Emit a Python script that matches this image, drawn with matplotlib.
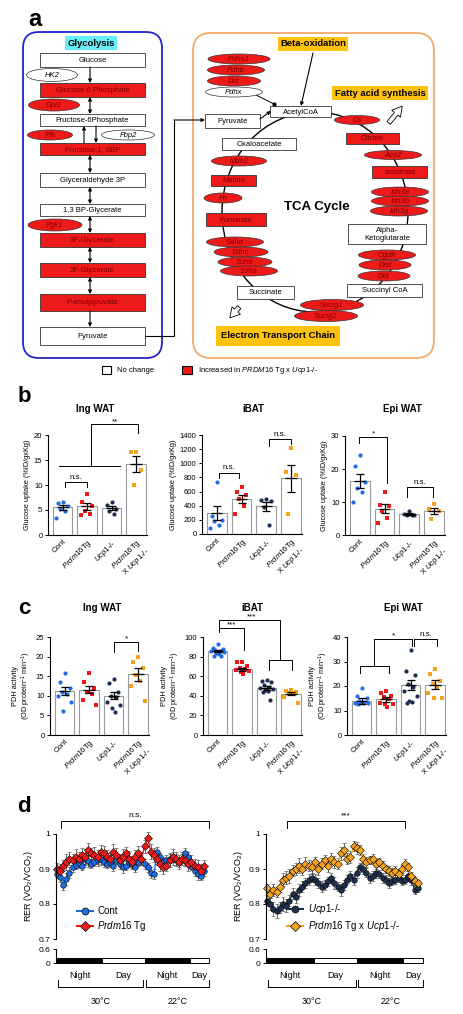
import numpy as np
import matplotlib
matplotlib.use('Agg')
import matplotlib.pyplot as plt
from matplotlib.patches import Rectangle, Ellipse, FancyBboxPatch, FancyArrowPatch
from matplotlib.lines import Line2D
from matplotlib import transforms

plt.rcParams['font.family'] = ['Liberation Sans', 'DejaVu Sans']
plt.rcParams['mathtext.fontset'] = 'custom'
plt.rcParams['mathtext.rm'] = 'Liberation Sans'
plt.rcParams['mathtext.it'] = 'Liberation Sans:italic'
plt.rcParams['mathtext.bf'] = 'Liberation Sans:bold'

#%% data
# panel a : pathway labels (name, top, bottom, increased?)
gly_boxes = [('Glucose', 53, 67, False), ('Glucose 6-Phosphate', 83, 97, True),
             ('Fructose-6Phosphate', 114, 126, False), ('Fructose-1, 6BP', 143, 155, True),
             ('Glyceraldehyde 3P', 173, 187, False), ('1,3 BP-Glycerate', 204, 216, False),
             ('3P-Glycerate', 233, 247, True), ('2P-Glycerate', 263, 277, True),
             ('P-enolpyruvate', 294, 311, True), ('Pyruvate', 327, 345, False)]
gly_genes = [('HK2', 52, 75, 51, 13, False), ('Gpi1', 54, 105, 51, 12, True),
             ('Pfk', 50, 135, 45, 10, True), ('Fbp2', 128, 135, 53, 10, False),
             ('Pgk1', 55, 225, 54, 12, True)]
tca_boxes = [('AcetylCoA', 270, 106, 331, 117, False), ('Pyruvate', 205, 114, 260, 128, False),
             ('Oxaloacetate', 222, 138, 296, 150, False), ('Citrate', 346, 133, 399, 144, True),
             ('Isocitrate', 372, 166, 427, 178, True), ('Alpha-\nKetoglutarate', 348, 224, 426, 244, False),
             ('Succinyl CoA', 347, 284, 422, 297, False), ('Succinate', 237, 286, 294, 299, False),
             ('Fumarate', 206, 213, 266, 226, True), ('Malate', 211, 175, 256, 186, True)]
tca_genes = [('Pdha1', 239, 59, 62, 10, True), ('Pdhb', 236, 70, 57, 10, True),
             ('Dld', 234, 81, 53, 10, True), ('Pdhx', 234, 92, 57, 10, False),
             ('Cs', 357, 120, 45, 9, True), ('Aco2', 393, 155, 57, 9, True),
             ('Idh3a', 400, 192, 57, 10, True), ('Idh3b', 400, 201, 57, 10, True),
             ('Idh3g', 399, 211, 57, 10, True), ('Ogdh', 387, 255, 57, 10, True),
             ('Dlst', 385, 265, 52, 10, True), ('Dld', 384, 276, 52, 10, True),
             ('Suclg1', 332, 305, 63, 11, True), ('Suclg2', 326, 316, 63, 11, True),
             ('Sdhd', 235, 242, 57, 10, True), ('Sdhc', 241, 252, 54, 10, True),
             ('Sdhb', 245, 262, 54, 10, True), ('Sdha', 249, 271, 57, 10, True),
             ('Fh', 223, 198, 38, 10, True), ('Mdh2', 239, 161, 55, 10, True)]

# panels b, c
tick_labels = ['Cont', r'$\it{Prdm16}$Tg', r'$\it{Ucp1}$-/-', r'$\it{Prdm16}$Tg' + '\n' + r'X $\it{Ucp1}$-/-']

glu_ing_pts = [[6.7, 6.5, 5.9, 5.3, 4.9, 3.5], [8.3, 6.7, 5.9, 4.9, 4.2, 4.0],
               [6.7, 6.0, 5.3, 4.9, 4.3], [16.7, 16.7, 13.1, 10.1]]
glu_ing_mean = [5.6, 5.8, 5.4, 14.3]
glu_ing_sem = [0.5, 0.7, 0.4, 1.6]

glu_bat_pts = [[740, 250, 200, 180, 130, 80], [660, 600, 550, 500, 400, 280],
               [500, 480, 460, 380, 130], [1220, 870, 830, 280]]
glu_bat_mean = [300, 500, 390, 790]
glu_bat_sem = [100, 55, 60, 190]

glu_epi_pts = [[24.2, 21.0, 16.2, 14.1, 12.9, 9.9], [12.9, 9.1, 8.9, 7.4, 5.1, 3.6],
               [7.3, 6.3, 6.2, 6.1, 6.0], [9.3, 8.0, 7.4, 4.8]]
glu_epi_mean = [16.3, 8.0, 6.3, 7.3]
glu_epi_sem = [2.1, 1.3, 0.3, 1.0]

pdh_ing_pts = [[15.8, 13.5, 12.0, 11.0, 10.5, 10.0, 8.5, 6.2], [15.8, 13.5, 12.0, 11.0, 10.5, 9.0, 7.6],
               [14.2, 13.3, 11.0, 10.0, 9.8, 8.5, 7.7, 7.0, 5.9], [20.0, 18.7, 17.0, 15.3, 13.9, 12.4, 8.6]]
pdh_ing_mean = [11.2, 11.6, 10.0, 15.5]
pdh_ing_sem = [1.0, 1.0, 0.9, 1.6]

pdh_bat_pts = [[93, 89, 88, 87, 86, 86, 85, 84, 83, 81, 81], [74, 74, 70, 68, 67, 66, 65, 64, 62],
               [56, 55, 54, 51, 49, 48, 47, 46, 45, 44, 36], [46, 45, 44, 43, 42, 39, 33]]
pdh_bat_mean = [86, 67, 48, 42]
pdh_bat_sem = [1.0, 1.5, 1.8, 1.6]

pdh_epi_pts = [[19, 16, 15, 14, 13.5, 13, 13, 13, 13, 12.5], [18, 17, 16, 15.5, 14.5, 13, 12.5, 12.5, 11.5],
               [34.5, 26, 24.5, 21, 19.5, 18, 16, 14, 13.5, 13], [27, 25, 22, 21, 19, 17, 15, 15]]
pdh_epi_mean = [14.0, 14.5, 20.3, 20.5]
pdh_epi_sem = [1.2, 1.2, 2.0, 1.8]

# panel d : RER time course
rer_cont = [0.885, 0.878, 0.855, 0.872, 0.890, 0.905, 0.912, 0.918, 0.910, 0.928, 0.922, 0.915,
            0.920, 0.925, 0.930, 0.920, 0.915, 0.920, 0.910, 0.925, 0.915, 0.905, 0.910, 0.920,
            0.915, 0.905, 0.920, 0.930, 0.915, 0.905, 0.890, 0.885, 0.948, 0.935, 0.920, 0.925,
            0.930, 0.935, 0.925, 0.920, 0.930, 0.945, 0.935, 0.910, 0.895, 0.885, 0.880, 0.895]
rer_prdm = [0.900, 0.895, 0.910, 0.920, 0.930, 0.925, 0.935, 0.930, 0.940, 0.935, 0.955, 0.945,
            0.940, 0.935, 0.950, 0.945, 0.935, 0.930, 0.950, 0.940, 0.925, 0.935, 0.945, 0.930,
            0.920, 0.935, 0.945, 0.930, 0.965, 0.990, 0.950, 0.940, 0.930, 0.915, 0.905, 0.910,
            0.925, 0.935, 0.930, 0.920, 0.930, 0.925, 0.915, 0.920, 0.910, 0.905, 0.895, 0.910]
rer_ucp = [0.810, 0.800, 0.785, 0.780, 0.790, 0.800, 0.795, 0.810, 0.830, 0.820, 0.840, 0.850,
           0.860, 0.870, 0.875, 0.870, 0.860, 0.850, 0.855, 0.865, 0.875, 0.860, 0.850, 0.840,
           0.855, 0.870, 0.880, 0.870, 0.890, 0.905, 0.900, 0.890, 0.875, 0.880, 0.890, 0.885,
           0.875, 0.870, 0.860, 0.865, 0.870, 0.875, 0.865, 0.870, 0.880, 0.870, 0.840, 0.845]
rer_pxu = [0.845, 0.830, 0.840, 0.835, 0.850, 0.870, 0.875, 0.880, 0.895, 0.900, 0.910, 0.900,
           0.915, 0.910, 0.905, 0.920, 0.900, 0.915, 0.925, 0.910, 0.930, 0.920, 0.915, 0.945,
           0.955, 0.930, 0.935, 0.965, 0.960, 0.955, 0.930, 0.920, 0.925, 0.930, 0.915, 0.920,
           0.910, 0.900, 0.895, 0.890, 0.895, 0.885, 0.900, 0.915, 0.905, 0.880, 0.865, 0.860]
err_cont = [0.012, 0.016, 0.014, 0.018, 0.015, 0.013, 0.012, 0.016, 0.014, 0.015, 0.017, 0.013,
            0.012, 0.016, 0.018, 0.014, 0.013, 0.015, 0.016, 0.012, 0.014, 0.017, 0.013, 0.015,
            0.016, 0.014, 0.012, 0.018, 0.015, 0.013, 0.016, 0.014, 0.015, 0.012, 0.014, 0.016,
            0.013, 0.015, 0.017, 0.014, 0.012, 0.016, 0.015, 0.013, 0.014, 0.016, 0.012, 0.015]
err_prdm = [0.018, 0.020, 0.016, 0.022, 0.019, 0.017, 0.021, 0.018, 0.020, 0.023, 0.019, 0.016,
            0.022, 0.020, 0.018, 0.021, 0.019, 0.017, 0.022, 0.020, 0.018, 0.023, 0.019, 0.021,
            0.017, 0.020, 0.022, 0.018, 0.019, 0.016, 0.021, 0.020, 0.018, 0.022, 0.019, 0.017,
            0.020, 0.023, 0.018, 0.021, 0.019, 0.017, 0.022, 0.020, 0.018, 0.021, 0.019, 0.017]
err_ucp = [0.016, 0.018, 0.020, 0.019, 0.017, 0.021, 0.018, 0.016, 0.015, 0.018, 0.017, 0.016,
           0.014, 0.015, 0.013, 0.016, 0.015, 0.017, 0.014, 0.013, 0.015, 0.016, 0.014, 0.017,
           0.015, 0.013, 0.014, 0.016, 0.015, 0.013, 0.014, 0.012, 0.014, 0.013, 0.015, 0.012,
           0.014, 0.013, 0.015, 0.012, 0.014, 0.013, 0.012, 0.014, 0.013, 0.015, 0.012, 0.011]
err_pxu = [0.012, 0.014, 0.016, 0.015, 0.017, 0.019, 0.018, 0.020, 0.016, 0.018, 0.021, 0.017,
           0.019, 0.016, 0.018, 0.015, 0.017, 0.016, 0.014, 0.018, 0.015, 0.017, 0.016, 0.018,
           0.019, 0.015, 0.017, 0.014, 0.016, 0.015, 0.013, 0.014, 0.012, 0.013, 0.014, 0.012,
           0.013, 0.011, 0.014, 0.012, 0.013, 0.012, 0.011, 0.013, 0.012, 0.011, 0.012, 0.010]
phase_names = ['Night', 'Day', 'Night', 'Day']
phase_edges = [0, 14.5, 28, 42.5, 48.6]
temp_labels = ['30\u00b0C', '22\u00b0C']

#%% style
RED = '#ee1a1a'
DARKRED = '#7a0000'
BLUE = '#1f6ee6'
NAVY = '#1d2f4d'
ORANGE = '#f6a21e'
CYAN = '#66eefa'
GOLD = '#ffc20e'
grp_colors = [BLUE, RED, NAVY, ORANGE]
grp_markers = ['o', 's', 'o', 's']

W, H = 464, 1014
fig = plt.figure(figsize=(W / 100, H / 100), dpi=100)


def px_axes(l, t, r, b):
    return fig.add_axes([l / W, 1 - b / H, (r - l) / W, (b - t) / H])


ov = px_axes(0, 0, W, H)
ov.set_xlim(0, W)
ov.set_ylim(H, 0)
ov.axis('off')

#%% panel a
ov.text(35, 19, 'a', fontsize=17, fontweight='bold', ha='center', va='center')

ov.add_patch(FancyBboxPatch((23, 32), 139, 326, boxstyle='round,pad=0,rounding_size=16',
                            fc='none', ec='#2424c8', lw=1.3))
ov.add_patch(FancyBboxPatch((193, 33), 241, 325, boxstyle='round,pad=0,rounding_size=18',
                            fc='none', ec='#f4a86a', lw=1.3))


def box(x0, y0, x1, y1, label, red):
    ov.add_patch(Rectangle((x0, y0), x1 - x0, y1 - y0, fc=RED if red else 'white',
                           ec='#333333', lw=0.6, zorder=3))
    ov.text((x0 + x1) / 2, (y0 + y1) / 2 + 0.5, label, ha='center', va='center', fontsize=5.5,
            color=DARKRED if red else 'black', zorder=4, linespacing=1.0)


def gene(label, cx, cy, w, h, red):
    ov.add_patch(Ellipse((cx, cy), w, h, fc=RED if red else 'white', ec='#333333', lw=0.5, zorder=2))
    ov.text(cx, cy + 0.3, label, ha='center', va='center', fontsize=5.5, style='italic',
            color=DARKRED if red else 'black', zorder=4)


def arrow(x0, y0, x1, y1, style='-|>'):
    ov.annotate('', xy=(x1, y1), xytext=(x0, y0),
                arrowprops=dict(arrowstyle=style, color='black', lw=0.8, mutation_scale=5,
                                shrinkA=0, shrinkB=0), zorder=4)


for label, t, b, red in gly_boxes:
    box(40, t, 145, b, label, red)
for g in gly_genes:
    gene(*g)

for i in range(len(gly_boxes) - 1):
    y0 = gly_boxes[i][2]
    y1 = gly_boxes[i + 1][1]
    if i == 2:
        arrow(84, y1, 84, y0)
        arrow(96, y0, 96, y1)
    elif i in (0, len(gly_boxes) - 2):
        arrow(90, y0, 90, y1)
    else:
        arrow(90, y0, 90, y1, '<|-|>')

ov.text(91, 43, 'Glycolysis', fontsize=6.8, fontweight='bold', ha='center', va='center',
        bbox=dict(boxstyle='square,pad=0.25', fc=CYAN, ec='none'))

# TCA cycle ring
ov.add_patch(Ellipse((315, 212), 186, 200, fc='none', ec='black', lw=1.0, zorder=1))
for g in tca_genes:
    gene(*g)
for label, x0, y0, x1, y1, red in tca_boxes:
    box(x0, y0, x1, y1, label, red)

ov.plot([145, 174, 174], [336, 336, 120], color='black', lw=0.8)
arrow(174, 120, 205, 120)
arrow(260, 119, 271, 111)
arrow(313, 53, 301, 106)
ov.plot([256, 274], [95, 104], color='black', lw=0.7, zorder=1)
ov.plot([274], [104], 'o', color='black', ms=2, zorder=5)

ov.text(313, 44, 'Beta-oxidation', fontsize=6.8, fontweight='bold', ha='center', va='center',
        bbox=dict(boxstyle='square,pad=0.25', fc=GOLD, ec='none'))
ov.text(380, 93, 'Fatty acid synthesis', fontsize=6.8, fontweight='bold', ha='center', va='center',
        bbox=dict(boxstyle='square,pad=0.25', fc=GOLD, ec='none'))
ov.text(278, 336, 'Electron Transport Chain', fontsize=6.8, fontweight='bold', ha='center',
        va='center', bbox=dict(boxstyle='square,pad=0.55', fc=GOLD, ec='none'))
ov.text(317, 207, 'TCA Cycle', fontsize=9.5, fontweight='bold', ha='center', va='center')

for (xa, ya, xb, yb) in [(387, 125, 404, 104), (241, 305, 228, 320)]:
    ov.add_patch(FancyArrowPatch((xa, ya), (xb, yb),
                                 arrowstyle='simple,head_width=4,head_length=3.5,tail_width=1.6',
                                 mutation_scale=2, fc='white', ec='black', lw=0.6))

ov.add_patch(Rectangle((102, 366), 9, 8, fc='white', ec='black', lw=0.8))
ov.text(117, 370.5, 'No change', fontsize=5.5, va='center')
ov.add_patch(Rectangle((182, 366), 10, 8, fc=RED, ec='black', lw=0.8))
ov.text(198, 370.5, r'Increased in $\it{PRDM16}$ Tg x $\it{Ucp1}$-/-', fontsize=5.5, va='center')

#%% panels b, c
def offsets(n):
    base = [0, -0.2, 0.2, -0.1, 0.1, -0.27, 0.27, -0.05, 0.05, -0.15, 0.15, -0.24]
    return np.array(base[:n])


def bar_panel(rect, pts, means, sems, ylim, yticks, ylabel):
    ax = px_axes(*rect)
    x = np.arange(4)
    ax.bar(x, means, width=0.8, color='white', edgecolor='#9a9a9a', lw=0.8, zorder=1)
    for i in range(4):
        vals = np.sort(np.array(pts[i]))[::-1]
        ax.scatter(i + offsets(len(vals)), vals, s=9, marker=grp_markers[i], color=grp_colors[i],
                   lw=0, zorder=3, clip_on=False)
    ax.errorbar(x, means, yerr=sems, fmt='none', ecolor='black', elinewidth=0.9,
                capsize=3.2, capthick=0.9, zorder=4)
    ax.hlines(means, x - 0.23, x + 0.23, color='black', lw=0.9, zorder=4)
    ax.set_xlim(-0.6, 3.45)
    ax.set_ylim(*ylim)
    ax.set_yticks(yticks)
    ax.spines[['top', 'right']].set_visible(False)
    ax.spines[['left', 'bottom']].set_linewidth(0.8)
    ax.tick_params(axis='y', labelsize=5.5, length=2.5, width=0.7, pad=1.5)
    ax.tick_params(axis='x', length=0, pad=2)
    ax.set_xticks(x)
    ax.set_xticklabels(tick_labels, rotation=45, ha='right', rotation_mode='anchor',
                       fontsize=5.6, linespacing=1.1)
    ax.set_ylabel(ylabel, fontsize=5.3, labelpad=2, linespacing=1.1)
    ax.patch.set_alpha(0)
    return ax


def bracket(ax, xs, ys, label=None, lx=None, ly=None):
    ax.plot(xs, ys, color='black', lw=0.7, clip_on=False, zorder=5)
    if label is not None:
        ax.text(lx, ly, label, ha='center', va='bottom', fontsize=5.8, clip_on=False)


ov.text(24, 397, 'b', fontsize=16, fontweight='bold', ha='center', va='center')
for tx, ttl in [(95, 'Ing WAT'), (253, 'iBAT'), (402, 'Epi WAT')]:
    ov.text(tx, 409, ttl, fontsize=7, fontweight='bold', ha='center', va='center')
glu_label = 'Glucose uptake (%ID/gxKg)'

b1 = bar_panel((48, 435, 147, 535), glu_ing_pts, glu_ing_mean, glu_ing_sem, (0, 20),
               [0, 5, 10, 15, 20], glu_label)
bracket(b1, [1.17, 1.17, 3.08, 3.08], [13.8, 22.2, 22.2, 20.4], '**', 2.12, 22.0)
bracket(b1, [-0.16, 2.35], [13.8, 13.8])
bracket(b1, [0.08, 0.08, 1.0, 1.0], [9.6, 10.6, 10.6, 9.6], 'n.s.', 0.54, 10.8)

b2 = bar_panel((202, 435, 302, 534), glu_bat_pts, glu_bat_mean, glu_bat_sem, (0, 1400),
               [0, 200, 400, 600, 800, 1000, 1200, 1400], glu_label)
bracket(b2, [0.08, 0.08, 0.9, 0.9], [797, 867, 867, 797], 'n.s.', 0.49, 885)
bracket(b2, [2.1, 2.1, 3.0, 3.0], [1245, 1343, 1343, 1277], 'n.s.', 2.55, 1360)

b3 = bar_panel((345, 436, 445, 535), glu_epi_pts, glu_epi_mean, glu_epi_sem, (0, 30),
               [0, 10, 20, 30], glu_label)
bracket(b3, [-0.04, -0.04, 1.11, 1.11], [27.9, 29.7, 29.7, 15.8], '*', 0.53, 29.7)
bracket(b3, [1.9, 1.9, 2.97, 2.97], [11.5, 14.5, 14.5, 11.5], 'n.s.', 2.43, 14.8)

ov.text(24, 609, 'c', fontsize=16, fontweight='bold', ha='center', va='center')
for tx, ttl in [(102, 'Ing WAT'), (252, 'iBAT'), (403, 'Epi WAT')]:
    ov.text(tx, 608, ttl, fontsize=7, fontweight='bold', ha='center', va='center')
pdh_label = 'PDH activity\n(OD protein$^{-1}$ min$^{-1}$)'

c1 = bar_panel((50, 637, 149, 735), pdh_ing_pts, pdh_ing_mean, pdh_ing_sem, (0, 25),
               [0, 5, 10, 15, 20, 25], pdh_label)
bracket(c1, [2.03, 2.03, 3.02, 3.02], [21.2, 23.7, 23.7, 21.4], '*', 2.52, 23.7)

c2 = bar_panel((203, 637, 302, 735), pdh_bat_pts, pdh_bat_mean, pdh_bat_sem, (0, 100),
               [0, 20, 40, 60, 80, 100], pdh_label)
bracket(c2, [0.04, 0.04, 1.06, 1.06], [105, 109, 109, 87], '***', 0.55, 108.5)
bracket(c2, [0.04, 0.04, 2.57, 2.57], [109, 117, 117, 76.5], '***', 1.4, 116.5)
bracket(c2, [2.1, 2.1, 3.04, 3.04], [66, 76.5, 76.5, 66])

c3 = bar_panel((347, 637, 446, 735), pdh_epi_pts, pdh_epi_mean, pdh_epi_sem, (0, 40),
               [0, 10, 20, 30, 40], pdh_label)
bracket(c3, [-0.06, -0.06, 1.1, 1.1], [25.3, 28.2, 28.2, 25.3])
bracket(c3, [0.52, 0.52, 2.05, 2.05], [28.2, 39.2, 39.2, 36.3], '*', 1.28, 39.0)
bracket(c3, [2.13, 2.13, 3.1, 3.1], [36.3, 39.2, 39.2, 36.3], 'n.s.', 2.62, 39.4)

#%% panel d
ov.text(24, 807, 'd', fontsize=16, fontweight='bold', ha='center', va='center')


def rer_panel(l, r, series, sig, sig_x):
    ax = px_axes(l, 834, r, 939)
    x = np.arange(48)
    for y, e, col, mk in series:
        ax.errorbar(x, y, yerr=e, fmt='-' + mk, color=col, mfc=col, mec='black', mew=0.4,
                    ms=4.0 if mk == 'o' else 4.4, lw=1.0, ecolor='#3a3a3a', elinewidth=0.5,
                    capsize=1.3, capthick=0.5, clip_on=False)
    ax.set_xlim(-0.3, 48.6)
    ax.set_ylim(0.7, 1.0)
    ax.set_yticks([0.7, 0.8, 0.9, 1.0])
    ax.set_yticklabels(['0.7', '0.8', '0.9', '1'])
    ax.set_xticks([])
    ax.spines[['top', 'right', 'bottom']].set_visible(False)
    ax.spines['left'].set_linewidth(0.8)
    ax.tick_params(axis='y', labelsize=6, length=2.5, width=0.7, pad=1.5)
    ax.patch.set_alpha(0)
    ax.plot([sig_x[0], sig_x[0], sig_x[1], sig_x[1]], [1.017, 1.037, 1.037, 1.017],
            color='black', lw=0.7, clip_on=False)
    ax.text(sum(sig_x) / 2, 1.042, sig, ha='center', va='bottom', fontsize=6)

    lo = px_axes(l, 949, r, 963)
    lo.set_xlim(-0.3, 48.6)
    lo.set_ylim(0, 0.6)
    lo.set_yticks([0, 0.6])
    lo.set_yticklabels(['0', '0.6'])
    lo.set_xticks([])
    lo.spines[['top', 'right', 'bottom']].set_visible(False)
    lo.spines['left'].set_linewidth(0.8)
    lo.tick_params(axis='y', labelsize=6, length=2.5, width=0.7, pad=1.5)
    lo.patch.set_alpha(0)
    tr = transforms.blended_transform_factory(lo.transData, ov.transData)
    for k, name in enumerate(phase_names):
        a, b = phase_edges[k], phase_edges[k + 1]
        lo.add_patch(Rectangle((a, 0), b - a, 0.2, fc='black' if name == 'Night' else 'white',
                               ec='black', lw=0.7, clip_on=False))
        ov.text((a + b) / 2, 976, name, transform=tr, ha='center', va='center', fontsize=6.5)
    for (a, b), t in zip([(0.3, 27.6), (28.4, 48.6)], temp_labels):
        ov.plot([a, a, b, b], [980, 987, 987, 980], transform=tr, color='black', lw=0.7)
        ov.text((a + b) / 2, 1001, t, transform=tr, ha='center', va='center', fontsize=6.5)
    return ax


d1 = rer_panel(56, 209, [(rer_cont, err_cont, BLUE, 'o'), (rer_prdm, err_prdm, RED, 'D')],
               'n.s.', (1.3, 48.6))
d1.set_ylabel('RER (VO$_2$/VCO$_2$)', fontsize=6.5, labelpad=3)
h1 = [Line2D([], [], color=BLUE, marker='o', mfc=BLUE, mec='black', mew=0.5, ms=5, lw=1.5),
      Line2D([], [], color=RED, marker='D', mfc=RED, mec='black', mew=0.5, ms=5, lw=1.5)]
d1.legend(h1, ['Cont', r'$\it{Prdm16}$ Tg'], loc='lower left', bbox_to_anchor=(0.08, -0.03),
          frameon=False, fontsize=7, handlelength=1.6, handletextpad=0.5, labelspacing=0.35)

d2 = rer_panel(266, 423, [(rer_ucp, err_ucp, NAVY, 'o'), (rer_pxu, err_pxu, ORANGE, 'D')],
               '***', (6.3, 43.0))
d2.set_ylabel('RER (VO$_2$/VCO$_2$)', fontsize=6.5, labelpad=3)
h2 = [Line2D([], [], color=NAVY, marker='o', mfc=NAVY, mec='black', mew=0.5, ms=5, lw=1.5),
      Line2D([], [], color=ORANGE, marker='D', mfc=ORANGE, mec='black', mew=0.5, ms=5, lw=1.5)]
d2.legend(h2, [r'$\it{Ucp1}$-/-', r'$\it{Prdm16}$ Tg x $\it{Ucp1}$-/-'], loc='lower left',
          bbox_to_anchor=(0.08, -0.03), frameon=False, fontsize=7, handlelength=1.6,
          handletextpad=0.5, labelspacing=0.35)

fig.savefig('out.png', dpi=100)
